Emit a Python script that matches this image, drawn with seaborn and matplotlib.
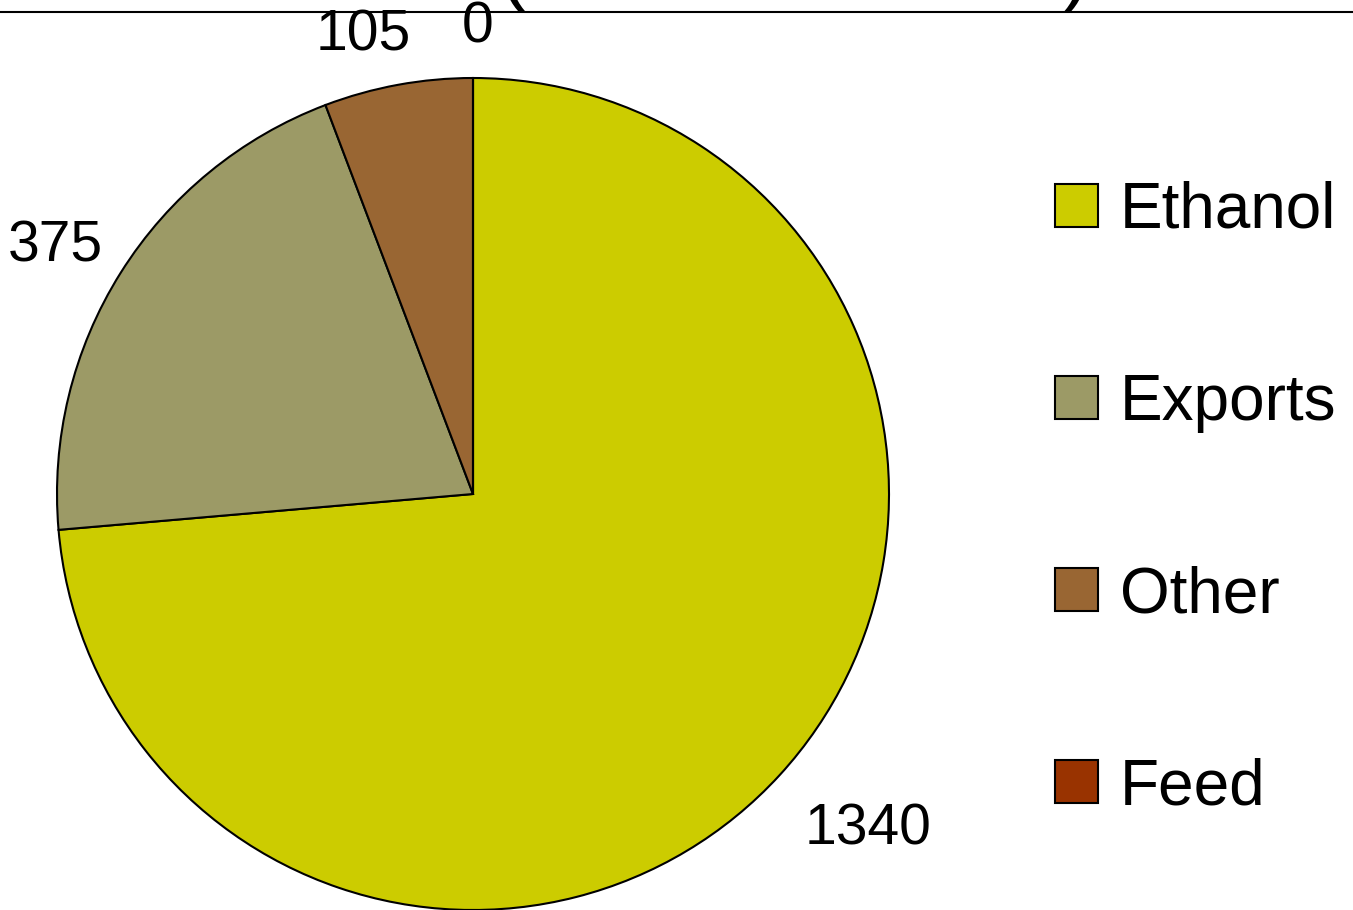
import numpy as np
import matplotlib
matplotlib.use("Agg")
import matplotlib.pyplot as plt
import seaborn as sns

# Corn use breakdown (million bushels)
categories = ["Ethanol", "Exports", "Other", "Feed"]
values = [1340, 375, 105, 0]
value_labels = ["1340", "375", "105", "0"]
colors = ["#CCCC00", "#9C9A66", "#996633", "#993300"]
title_text = "Corn Use (Million Bushels)"

sns.set_theme(style="white")
plt.rcParams["font.family"] = ["Liberation Sans", "DejaVu Sans"]
plt.rcParams["text.color"] = "black"

W, H = 1353, 910
fig = plt.figure(figsize=(W / 100, H / 100), dpi=100)
fig.patch.set_facecolor("white")

# square axes holding the unit-radius pie
R = 416
cx, cy = 473, H - 494
ax = fig.add_axes([(cx - R) / W, (cy - R) / H, 2 * R / W, 2 * R / H])

wedges, _ = ax.pie(
    values,
    colors=colors,
    startangle=90,
    counterclock=False,
    radius=1.0,
    wedgeprops=dict(edgecolor="black", linewidth=1.5),
)
ax.set_xlim(-1, 1)
ax.set_ylim(-1, 1)
ax.set_aspect("equal")
ax.axis("off")

# value labels: anchored on the rim at each wedge's mid angle, nudged outward
label_offsets = [(64, -35), (-47, 23), (-25, 40), (3, 41)]  # points
total = float(sum(values))
start = 90.0
for val, txt, off in zip(values, value_labels, label_offsets):
    span = 360.0 * val / total
    mid = np.deg2rad(start - span / 2)
    ax.annotate(txt, xy=(np.cos(mid), np.sin(mid)), xytext=off,
                textcoords="offset points", ha="center", va="center_baseline",
                fontsize=41, color="black", annotation_clip=False)
    start -= span

# legend on the right
handles = [plt.Rectangle((0, 0), 1, 1, facecolor=c, edgecolor="black", linewidth=1.5)
           for c in colors]
fig.legend(
    handles, categories,
    loc="center left",
    bbox_to_anchor=(1055 / W, 1 - 499 / H),
    frameon=False,
    fontsize=46,
    labelcolor="black",
    handlelength=0.68,
    handleheight=0.66,
    handletextpad=0.34,
    labelspacing=2.07,
    borderaxespad=0,
    borderpad=0,
)

# title above the rule, largely beyond the top edge
fig.text(1090 / W, 1 + 5 / H, title_text, ha="right", va="baseline",
         fontsize=58, color="black")
fig.add_artist(plt.Line2D([0, 1], [1 - 12 / H, 1 - 12 / H],
                          transform=fig.transFigure, color="black", linewidth=1.5))

fig.savefig("out.png", dpi=100, facecolor="white")
